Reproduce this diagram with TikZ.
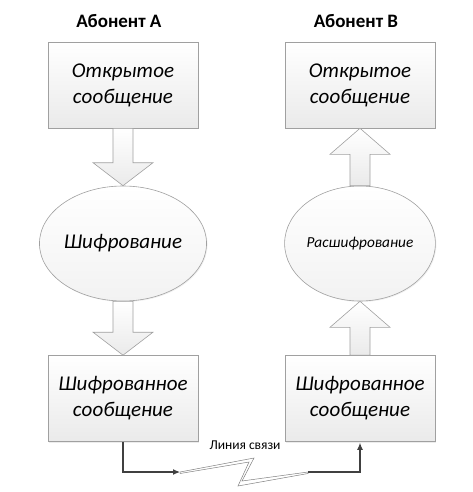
\documentclass[tikz,border=0pt]{standalone}
\usepackage{fontspec}
\setmainfont{Carlito}
\usetikzlibrary{shapes.geometric,shadows,arrows.meta,calc}
\definecolor{edge}{HTML}{A0A0A0}
\definecolor{fillbot}{HTML}{EAEAEA}
\definecolor{ovalbot}{HTML}{F2F2F2}
\definecolor{wire}{HTML}{404040}
\tikzset{
  box/.style={draw=edge, line width=0.6pt, top color=white, bottom color=fillbot,
    minimum width=150pt, minimum height=86pt, align=center, inner sep=0pt,
    font=\fontsize{21}{26}\selectfont\itshape,
    drop shadow={opacity=0.15, shadow xshift=1.2pt, shadow yshift=-1.2pt}},
  oval/.style={ellipse, draw=edge, line width=0.6pt, top color=white, bottom color=ovalbot,
    minimum width=150pt, minimum height=115pt, inner sep=0pt, align=center,
    drop shadow={opacity=0.12, shadow xshift=1pt, shadow yshift=-1pt}},
  title/.style={font=\fontsize{19}{22}\selectfont\bfseries},
  blockarrow/.style={draw=edge, line width=0.6pt, top color=white, bottom color=fillbot},
  wireline/.style={draw=wire, line width=1.1pt},
  bolt/.style={draw=gray, line width=0.5pt, fill=white}
}
\newcommand{\arrowdown}[2]{%
  \path[blockarrow] let \p1=(#1), \p2=(#2) in
    (\x1-10pt,\y1) -- (\x1+10pt,\y1) -- (\x1+10pt,\y2+23pt) -- (\x1+30pt,\y2+23pt)
    -- (\x2,\y2) -- (\x1-30pt,\y2+23pt) -- (\x1-10pt,\y2+23pt) -- cycle;}
\newcommand{\arrowup}[2]{%
  \path[blockarrow] let \p1=(#1), \p2=(#2) in
    (\x1-10pt,\y1) -- (\x1+10pt,\y1) -- (\x1+10pt,\y2-26pt) -- (\x1+30pt,\y2-26pt)
    -- (\x2,\y2) -- (\x1-30pt,\y2-26pt) -- (\x1-10pt,\y2-26pt) -- cycle;}
\begin{document}
\begin{tikzpicture}[x=1pt,y=-1pt]
\useasboundingbox (0,0) rectangle (472,492);
\node[title] (ta) at (119,21) {Абонент А};
\node[title] (tb) at (356,21) {Абонент В};
\node[box] (a1) at (123,85) {Открытое\\сообщение};
\node[oval, font=\fontsize{21}{24}\selectfont\itshape] (a2) at (123,243.5) {Шифрование};
\node[box] (a3) at (123,398.5) {Шифрованное\\сообщение};
\node[box] (b1) at (360,85) {Открытое\\сообщение};
\node[oval, font=\fontsize{15.3}{18}\selectfont\itshape] (b2) at (360,243.5) {Расшифрование};
\node[box] (b3) at (360,398.5) {Шифрованное\\сообщение};
\arrowdown{a1.south}{a2.north}
\arrowdown{a2.south}{a3.north}
\arrowup{b2.north}{b1.south}
\arrowup{b3.north}{b2.south}
\coordinate (z1) at (180,472);
\coordinate (z2) at (308,472);
\draw[bolt] (z1) -- (254,458) -- (242,481) -- (z2) -- (308,473.5) -- (238,486) -- (249,462) -- (180,473.5) -- cycle;
\draw[wireline, -{Latex[length=7pt,width=6pt]}] (a3.south) |- (z1);
\draw[wireline, -{Latex[length=7pt,width=6pt]}] (z2) -| ($(b3.south)+(0,1)$);
\node[font=\fontsize{13.5}{16}\selectfont] (lbl) at (245,445) {Линия связи};
\end{tikzpicture}
\end{document}
